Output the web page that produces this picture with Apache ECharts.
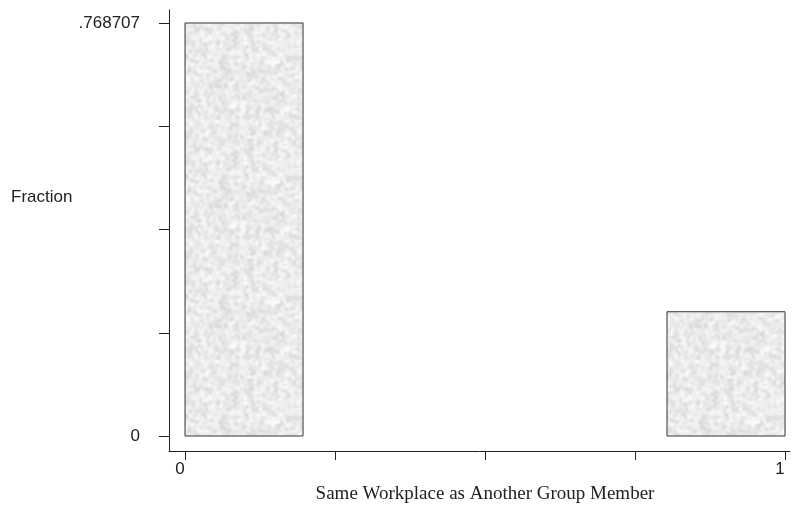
<!DOCTYPE html>
<html>
<head>
<meta charset="utf-8">
<script src="https://cdn.jsdelivr.net/npm/echarts@6/dist/echarts.min.js"></script>
<style>
html, body { margin: 0; padding: 0; background: #fff; }
#main { width: 794px; height: 508px; }
</style>
</head>
<body>
<div id="main"></div>
<script>
// histogram bins: [left edge, right edge, fraction]
const binLeft = [0, 0.8033];
const binRight = [0.1967, 1];
const fractions = [0.768707, 0.231293];
const yTicks = [0, 0.192177, 0.384354, 0.576530, 0.768707];
const yLabels = ["0", ".768707"];
const xTicks = [0, 0.25, 0.5, 0.75, 1];
const xLabels = [0, 1];

// soft speckled grey texture like the original fill (decoration only)
function makeTexture(){
	const size = 120;
	const raw = document.createElement("canvas");
	raw.width = size; raw.height = size;
	const ctx = raw.getContext("2d");
	ctx.fillStyle = "#efefef";
	ctx.fillRect(0, 0, size, size);
	let seed = 12345;
	function next(){
		seed = (seed * 16807) % 2147483647;
		return seed;
	}
	for(let i = 0; i < 3200; i++){
		const x = next() % size;
		const y = next() % size;
		const g = 212 + (next() % 44);
		ctx.fillStyle = "rgb(" + g + "," + g + "," + g + ")";
		ctx.fillRect(x, y, 3, 3);
	}
	const c = document.createElement("canvas");
	c.width = size; c.height = size;
	const cx = c.getContext("2d");
	cx.fillStyle = "#efefef";
	cx.fillRect(0, 0, size, size);
	cx.filter = "blur(0.8px)";
	cx.drawImage(raw, 0, 0);
	return c;
}
const texture = makeTexture();

const bins = [];
for(let i = 0; i < fractions.length; i++){
	bins.push([binLeft[i], binRight[i], fractions[i]]);
}

var mychart = echarts.init(document.getElementById("main"));

const option = {
	animation: false,
	grid: {left: 169, right: 4, top: 10, bottom: 57},
	xAxis: {
		type: "value", min: -0.0267, max: 1.0083,
		splitLine: {show: false},
		axisLine: {onZero: false, lineStyle: {color: "#222", width: 1}},
		axisTick: {customValues: xTicks, length: 9, lineStyle: {color: "#222"}},
		axisLabel: {customValues: xLabels, color: "#222", fontFamily: "Liberation Sans", fontSize: 17,
			margin: 10, padding: [0, 10, 0, 0]}
	},
	yAxis: {
		type: "value", min: -0.0279, max: 0.7929,
		splitLine: {show: false},
		axisLine: {show: true, onZero: false, lineStyle: {color: "#222", width: 1}},
		axisTick: {show: true, customValues: yTicks, length: 10, lineStyle: {color: "#222"}},
		axisLabel: {customValues: [yTicks[0], yTicks[4]], color: "#222", fontFamily: "Liberation Sans", fontSize: 17,
			margin: 29, padding: [5, 0, 0, 0],
			formatter: function(v){ return v === 0 ? yLabels[0] : yLabels[1]; }}
	},
	graphic: [
		{type: "text", x: 11, y: 197,
			style: {text: "Fraction", font: "17px Liberation Sans", fill: "#222", textVerticalAlign: "middle"}},
		{type: "text", x: 485, y: 494,
			style: {text: "Same Workplace as Another Group Member", font: "19px Liberation Serif", fill: "#222",
				textAlign: "center", textVerticalAlign: "middle"}}
	],
	series: [{
		type: "custom",
		data: bins,
		renderItem: function(params, api){
			const p0 = api.coord([api.value(0), 0]);
			const p1 = api.coord([api.value(1), api.value(2)]);
			return {
				type: "rect",
				shape: {x: p0[0], y: p1[1], width: p1[0] - p0[0], height: p0[1] - p1[1]},
				style: {fill: {image: texture, repeat: "repeat"}, stroke: "#333", lineWidth: 1}
			};
		}
	}]
};
mychart.setOption(option);
</script>
</body>
</html>
